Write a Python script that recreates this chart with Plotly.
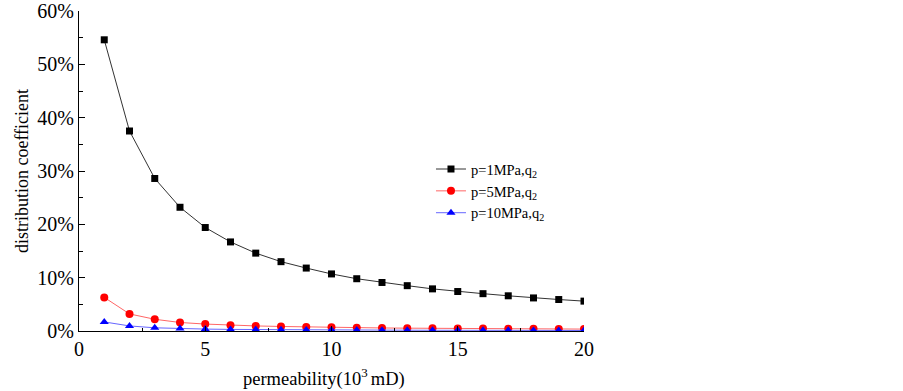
import plotly.graph_objects as go

permeability = list(range(1, 21))
p1_q2 = [54.6, 37.5, 28.6, 23.2, 19.4, 16.7, 14.6, 13.0, 11.8, 10.7,
         9.8, 9.1, 8.5, 7.9, 7.4, 7.0, 6.6, 6.2, 5.9, 5.6]
p5_q2 = [6.3, 3.2, 2.2, 1.6, 1.3, 1.1, 0.95, 0.85, 0.75, 0.68,
         0.62, 0.57, 0.53, 0.50, 0.47, 0.45, 0.42, 0.40, 0.38, 0.36]
p10_q2 = [1.7, 0.95, 0.6, 0.45, 0.36, 0.3, 0.26, 0.23, 0.21, 0.19,
          0.17, 0.16, 0.15, 0.14, 0.13, 0.12, 0.12, 0.11, 0.11, 0.10]

series = [
    ("p=1MPa,q<sub>2</sub>", p1_q2, "black", "#333333", "square", 7),
    ("p=5MPa,q<sub>2</sub>", p5_q2, "red", "#ff6666", "circle", 8),
    ("p=10MPa,q<sub>2</sub>", p10_q2, "blue", "#6666ff", "triangle-up", 8),
]

fig = go.Figure()
for name, vals, mc, lc, sym, sz in series:
    fig.add_trace(go.Scatter(
        x=permeability, y=[v / 100 for v in vals], name=name,
        mode="lines+markers",
        line=dict(color=lc, width=1),
        marker=dict(symbol=sym, size=sz, color=mc),
        cliponaxis=True,
    ))

font_family = "Liberation Serif, Times New Roman, serif"
fig.update_layout(
    width=903, height=391,
    margin=dict(l=79, r=319, t=11, b=60, autoexpand=False),
    paper_bgcolor="white", plot_bgcolor="white",
    font=dict(family=font_family, color="black"),
    showlegend=True,
    legend=dict(x=0.697, y=0.556, xanchor="left", yanchor="top",
                font=dict(size=14.5, family=font_family), bgcolor="rgba(0,0,0,0)",
                tracegroupgap=0, itemwidth=30),
    annotations=[dict(
        text="permeability(10<sup>3 </sup>mD)", xref="paper", yref="paper",
        x=0.485, y=-0.145, xanchor="center", yanchor="middle", showarrow=False,
        font=dict(size=18.5, family=font_family, color="black"),
    )],
)
fig.update_xaxes(
    range=[0, 20], dtick=5, tick0=0, automargin=False,
    showline=True, linecolor="black", linewidth=1,
    ticks="inside", ticklen=5, tickcolor="black",
    minor=dict(dtick=2.5, ticks="inside", ticklen=3, tickcolor="black"),
    showgrid=False, zeroline=False,
    tickfont=dict(size=20, family=font_family),
)
fig.update_yaxes(
    range=[0, 0.6], dtick=0.1, tick0=0, tickformat=".0%", automargin=False,
    showline=True, linecolor="black", linewidth=1,
    ticks="inside", ticklen=6, tickcolor="black",
    minor=dict(dtick=0.05, ticks="inside", ticklen=4, tickcolor="black"),
    showgrid=False, zeroline=False,
    tickfont=dict(size=20, family=font_family),
    title=dict(text="distribution coefficient", font=dict(size=18, family=font_family), standoff=4),
)

fig.write_html("out.html", config={"displayModeBar": False},
               post_script="document.body.style.margin='0';document.body.style.padding='0';")
